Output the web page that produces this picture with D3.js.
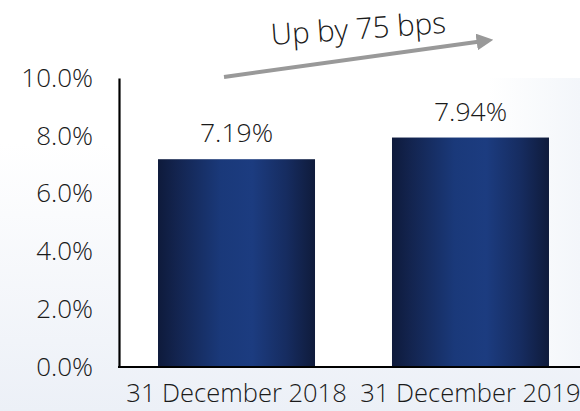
<!DOCTYPE html>
<html>
<head>
<meta charset="utf-8">
<script src="https://cdn.jsdelivr.net/npm/d3@7"></script>
<style>
  html, body { margin: 0; padding: 0; background: #fff; }
  svg { display: block; }
  text { font-family: "Open Sans", "Noto Sans", sans-serif; font-weight: 300; fill: #1a1a1a; }
</style>
</head>
<body>
<svg id="chart" width="580" height="411"></svg>
<script>
// Yield by reporting date
const categories = ["31 December 2018", "31 December 2019"];
const values = [7.19, 7.94];
const valueLabels = ["7.19%", "7.94%"];
const tickValues = [0, 2, 4, 6, 8, 10];
const tickLabels = ["0.0%", "2.0%", "4.0%", "6.0%", "8.0%", "10.0%"];
const changeLabel = "Up by 75 bps";

const W = 580, H = 411;
const FONT = "'Open Sans', 'Noto Sans', sans-serif";
const svg = d3.select("#chart");
const defs = svg.append("defs");

// Soft page background: white at top fading to a pale blue at the bottom
const bg = defs.append("linearGradient").attr("id", "bg")
  .attr("x1", 0).attr("y1", 0).attr("x2", 0).attr("y2", 1);
bg.append("stop").attr("offset", "0.35").attr("stop-color", "#ffffff");
bg.append("stop").attr("offset", "1").attr("stop-color", "#ecf0f7");
svg.append("rect").attr("width", W).attr("height", H).attr("fill", "url(#bg)");

// Plot area fill, almost white with a faint tint to the right
const pa = defs.append("linearGradient").attr("id", "plotbg")
  .attr("x1", 0).attr("y1", 0).attr("x2", 1).attr("y2", 0);
pa.append("stop").attr("offset", "0").attr("stop-color", "#ffffff");
pa.append("stop").attr("offset", "0.8").attr("stop-color", "#ffffff");
pa.append("stop").attr("offset", "1").attr("stop-color", "#f3f6fa");

// Bar shading: dark navy edges with a brighter blue centre
const barGrad = defs.append("linearGradient").attr("id", "barGrad")
  .attr("x1", 0).attr("y1", 0).attr("x2", 1).attr("y2", 0);
[["0", "#0e1a3b"], ["0.12", "#13244f"], ["0.4", "#1a397a"], ["0.6", "#1c3c80"],
 ["0.82", "#162c60"], ["1", "#0f1b3b"]].forEach(([o, c]) =>
  barGrad.append("stop").attr("offset", o).attr("stop-color", c));

const x = d3.scaleBand().domain(categories).range([118, 589])
  .paddingInner(0.329).paddingOuter(0.171);
const y = d3.scaleLinear().domain([0, 10]).range([367, 78]);

svg.append("rect")
  .attr("x", 119).attr("y", y(10))
  .attr("width", W - 119).attr("height", y(0) - y(10))
  .attr("fill", "url(#plotbg)");

// Bars
svg.append("g").selectAll("rect").data(values).join("rect")
  .attr("x", (d, i) => x(categories[i]))
  .attr("y", d => y(d))
  .attr("width", x.bandwidth())
  .attr("height", d => y(0) - y(d))
  .attr("fill", "url(#barGrad)");

// Value labels
svg.append("g").selectAll("text").data(values).join("text")
  .attr("x", (d, i) => x(categories[i]) + x.bandwidth() / 2)
  .attr("y", d => y(d) - 17)
  .attr("text-anchor", "middle")
  .attr("font-size", 26.5)
  .text((d, i) => valueLabels[i]);

// Y axis
const yAxis = d3.axisLeft(y).tickValues(tickValues)
  .tickFormat((d, i) => tickLabels[i]).tickSize(0).tickPadding(26);
const gy = svg.append("g").attr("transform", "translate(119,0)").call(yAxis);
gy.select(".domain").attr("stroke", "#000").attr("stroke-width", 2.2);
gy.selectAll("text").attr("font-size", 26).attr("fill", "#1a1a1a")
  .style("font-family", FONT).style("font-weight", 300);

// X axis
const xAxis = d3.axisBottom(x).tickSize(0).tickPadding(17);
const gx = svg.append("g").attr("transform", `translate(0,${y(0)})`).call(xAxis);
gx.select(".domain").attr("d", `M118,0H${W}`).attr("stroke", "#000").attr("stroke-width", 2.2);
gx.selectAll("text").attr("font-size", 25.5).attr("fill", "#1a1a1a")
  .style("font-family", FONT).style("font-weight", 300);

// Trend arrow
defs.append("marker").attr("id", "arrowHead")
  .attr("viewBox", "0 0 10 10").attr("refX", 2).attr("refY", 5)
  .attr("markerWidth", 4.2).attr("markerHeight", 4.2)
  .attr("orient", "auto").attr("markerUnits", "strokeWidth")
  .append("path").attr("d", "M0,0L10,5L0,10Z").attr("fill", "#999");
svg.append("line")
  .attr("x1", 224).attr("y1", 77).attr("x2", 480).attr("y2", 41.5)
  .attr("stroke", "#999").attr("stroke-width", 4)
  .attr("marker-end", "url(#arrowHead)");

svg.append("text")
  .attr("transform", "translate(359,39) rotate(-4)")
  .attr("text-anchor", "middle")
  .attr("font-size", 29.5)
  .text(changeLabel);
</script>
</body>
</html>
